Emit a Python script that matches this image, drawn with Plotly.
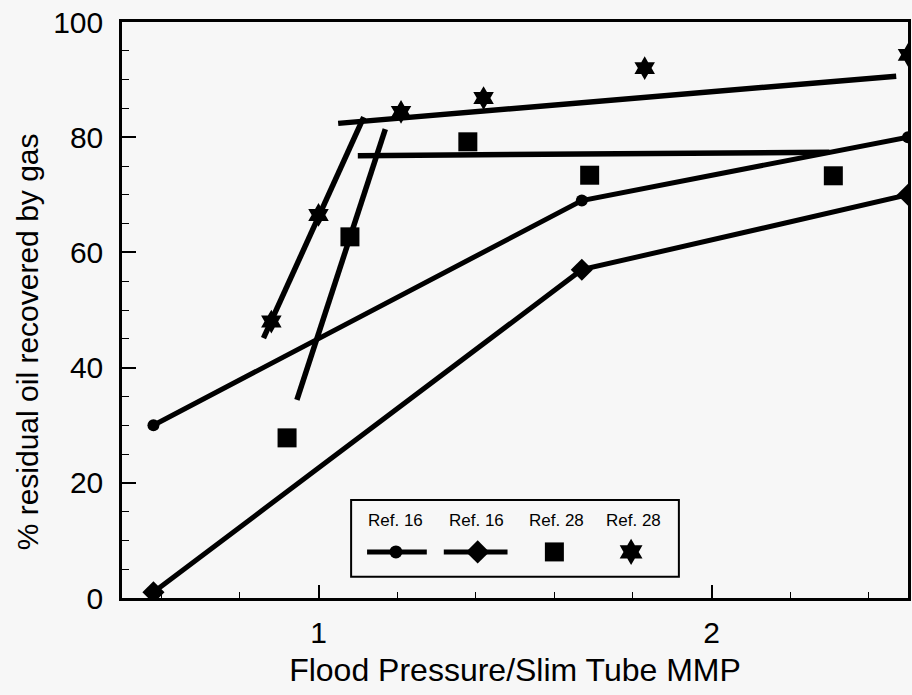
import plotly.graph_objects as go

# ---- data ----
ref16_circle_x = [0.58, 1.67, 2.50]
ref16_circle_y = [30.0, 69.0, 80.0]

ref16_diamond_x = [0.58, 1.67, 2.50]
ref16_diamond_y = [1.0, 57.0, 70.0]

ref28_square_x = [0.92, 1.08, 1.38, 1.69, 2.31]
ref28_square_y = [27.8, 62.7, 79.2, 73.4, 73.3]

ref28_star_x = [0.88, 1.00, 1.21, 1.42, 1.83, 2.50]
ref28_star_y = [48.0, 66.5, 84.4, 86.8, 92.0, 94.3]

# hand-drawn trend lines for Ref. 28
star_steep_x = [0.86, 1.115]
star_steep_y = [45.1, 83.5]
square_steep_x = [0.945, 1.17]
square_steep_y = [34.4, 81.4]
star_plateau_x = [1.05, 2.47]
star_plateau_y = [82.4, 90.6]
square_plateau_x = [1.10, 2.30]
square_plateau_y = [76.8, 77.4]

legend_labels = ["Ref. 16", "Ref. 16", "Ref. 28", "Ref. 28"]

INK = "black"
BG = "#f7f7f7"
FONT = "Liberation Sans, Arial, sans-serif"

fig = go.Figure()

def line(x, y, w=5.5):
    fig.add_trace(go.Scatter(x=x, y=y, mode="lines",
                             line=dict(color=INK, width=w),
                             showlegend=False, hoverinfo="skip"))

line(star_steep_x, star_steep_y)
line(square_steep_x, square_steep_y)
line(star_plateau_x, star_plateau_y)
line(square_plateau_x, square_plateau_y)

fig.add_trace(go.Scatter(x=ref16_circle_x, y=ref16_circle_y, mode="lines+markers",
                         line=dict(color=INK, width=5),
                         marker=dict(symbol="circle", size=12, color=INK),
                         showlegend=False))
fig.add_trace(go.Scatter(x=ref16_diamond_x, y=ref16_diamond_y, mode="lines+markers",
                         line=dict(color=INK, width=5),
                         marker=dict(symbol="diamond", size=17, color=INK),
                         showlegend=False))
fig.add_trace(go.Scatter(x=ref28_square_x, y=ref28_square_y, mode="markers",
                         marker=dict(symbol="square", size=19, color=INK),
                         showlegend=False))
fig.add_trace(go.Scatter(x=ref28_star_x, y=ref28_star_y, mode="markers",
                         marker=dict(symbol="hexagram", size=18, color=INK),
                         showlegend=False))

# ---- custom legend (paper-space overlay axes) ----
sym_y = 0.080
txt_y = 0.134
txt_x = [0.3485, 0.4506, 0.5526, 0.6502]
glyphs = [
    ([0.3118, 0.3878], 0.3485, "circle", 13),
    ([0.4094, 0.4905], 0.4525, "diamond", 18),
    (None, 0.5501, "square", 19),
    (None, 0.6477, "hexagram", 20),
]
for seg, mx, sym, sz in glyphs:
    if seg is not None:
        fig.add_trace(go.Scatter(x=seg, y=[sym_y, sym_y], mode="lines",
                                 line=dict(color=INK, width=5), xaxis="x2", yaxis="y2",
                                 showlegend=False, hoverinfo="skip"))
    fig.add_trace(go.Scatter(x=[mx], y=[sym_y], mode="markers", xaxis="x2", yaxis="y2",
                             marker=dict(symbol=sym, size=sz, color=INK, opacity=1,
                                         line=dict(width=0)),
                             opacity=1, showlegend=False, hoverinfo="skip"))

for tx, lab in zip(txt_x, legend_labels):
    fig.add_annotation(x=tx, y=txt_y, xref="paper", yref="paper", text=lab,
                       showarrow=False, font=dict(size=17, color=INK, family=FONT),
                       xanchor="center", yanchor="middle")

fig.add_shape(type="rect", xref="paper", yref="paper",
              x0=0.2915, x1=0.7085, y0=0.037, y1=0.170,
              line=dict(color=INK, width=2), fillcolor=BG, layer="below")

# y-axis title (placed as in the reference, slightly below axis centre)
fig.add_annotation(x=-0.12, y=0.445, xref="paper", yref="paper",
                   text="% residual oil recovered by gas", textangle=-90,
                   showarrow=False, font=dict(size=30, color=INK, family=FONT),
                   xanchor="center", yanchor="middle")

fig.update_layout(
    width=912, height=695,
    margin=dict(l=122, r=1, t=22, b=97),
    paper_bgcolor=BG, plot_bgcolor=BG,
    font=dict(family=FONT, color=INK),
    showlegend=False,
    xaxis=dict(range=[0.5, 2.5], dtick=1, tick0=0, ticks="inside", ticklen=13,
               tickwidth=1.5, tickcolor=INK,
               minor=dict(dtick=0.2, tick0=0, ticks="inside", ticklen=6,
                          tickwidth=1.2, tickcolor=INK),
               showgrid=False, zeroline=False, showline=True, linecolor=INK,
               linewidth=2.5, mirror=True, ticklabelstandoff=6,
               tickfont=dict(size=30, family=FONT),
               title=dict(text="Flood Pressure/Slim Tube MMP",
                          font=dict(size=32, family=FONT), standoff=11)),
    yaxis=dict(range=[0, 100], dtick=20, ticks="inside", ticklen=14,
               tickwidth=1.5, tickcolor=INK,
               minor=dict(dtick=5, ticks="inside", ticklen=7, tickwidth=1.2,
                          tickcolor=INK),
               showgrid=False, zeroline=False, showline=True, linecolor=INK,
               linewidth=2.5, mirror=True, ticklabelstandoff=10,
               tickfont=dict(size=30, family=FONT)),
    xaxis2=dict(range=[0, 1], overlaying="x", visible=False, fixedrange=True),
    yaxis2=dict(range=[0, 1], overlaying="y", visible=False, fixedrange=True),
)

fig.write_html("out.html")
